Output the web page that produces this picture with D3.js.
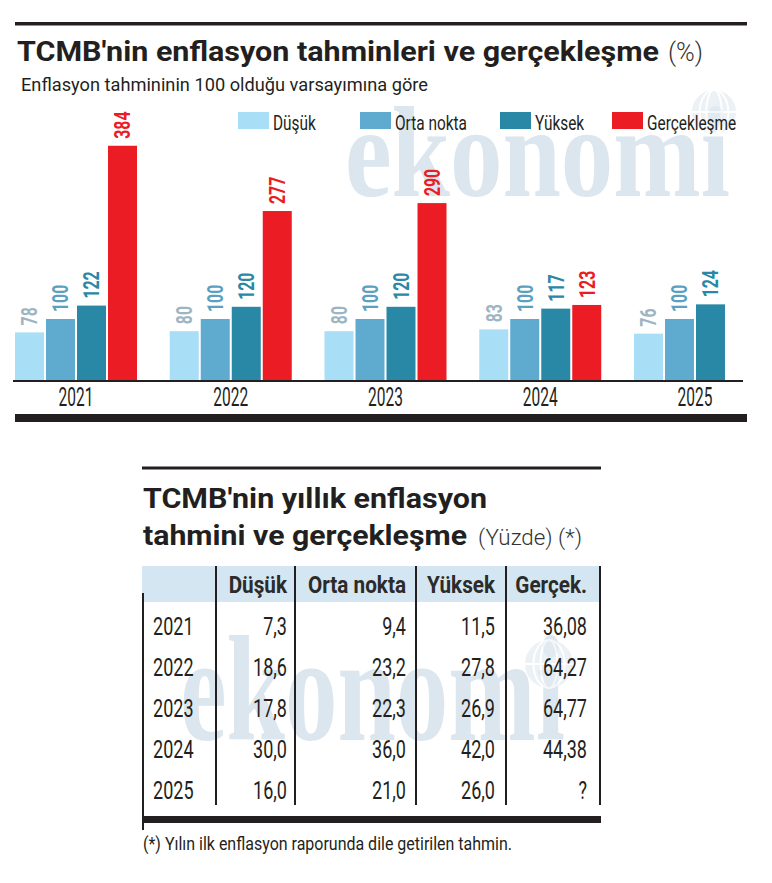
<!DOCTYPE html>
<html><head><meta charset="utf-8">
<script src="https://cdn.jsdelivr.net/npm/d3@7/dist/d3.min.js"></script>
<style>body{margin:0;background:#fff} svg{display:block}</style>
</head><body>
<svg id="c" width="772" height="883"></svg>
<script>
// ---------- DATA ----------
const years = ["2021", "2022", "2023", "2024", "2025"];
const seriesNames = ["Düşük", "Orta nokta", "Yüksek", "Gerçekleşme"];
const dusuk = [78, 80, 80, 83, 76];
const ortaNokta = [100, 100, 100, 100, 100];
const yuksek = [122, 120, 120, 117, 124];
const gerceklesme = [384, 277, 290, 123, null];

const tableHeaders = ["Düşük", "Orta nokta", "Yüksek", "Gerçek."];
const tDusuk = [7.3, 18.6, 17.8, 30.0, 16.0];
const tOrta = [9.4, 23.2, 22.3, 36.0, 21.0];
const tYuksek = [11.5, 27.8, 26.9, 42.0, 26.0];
const tGercek = [36.08, 64.27, 64.77, 44.38, null];

// ---------- STYLE ----------
const INK = "#231f20";
const FONT = "Roboto, 'Liberation Sans', sans-serif";
const barColors = ["#a8def6", "#5eabcf", "#2a88a7", "#ec1c24"];
const labelColors = ["#9db5c3", "#5b9fc1", "#2a87a6", "#ec1c24"];

const svg = d3.select("#c");
const trLocale = d3.formatLocale({decimal: ",", thousands: ".", grouping: [3], currency: ["", "₺"]});
const f1 = trLocale.format(".1f"), f2 = trLocale.format(".2f");

// ---------- WATERMARKS ----------
function watermark(x, yb, size, w) {
  svg.append("text").attr("x", x).attr("y", yb)
    .attr("font-family", "'Liberation Serif', 'DejaVu Serif', serif").attr("font-weight", "bold")
    .attr("font-size", size).attr("fill", "#dce6ee")
    .attr("textLength", w).attr("lengthAdjust", "spacingAndGlyphs").text("ekonomi");
}
function globe(cx, cy, r) {
  const g = svg.append("g").attr("opacity", 0.7);
  g.append("circle").attr("cx", cx).attr("cy", cy).attr("r", r).attr("fill", "#e4ecf2");
  [0.35, 0.65].forEach(t => g.append("ellipse").attr("cx", cx).attr("cy", cy)
    .attr("rx", r * t).attr("ry", r).attr("fill", "none").attr("stroke", "#fff").attr("stroke-width", 2));
  g.append("line").attr("x1", cx - r).attr("x2", cx + r).attr("y1", cy).attr("y2", cy).attr("stroke", "#fff").attr("stroke-width", 2);
}
watermark(345, 196, 130, 385);
globe(714, 112, 22);
watermark(180, 740, 150, 385);
globe(549, 664, 24);

// ---------- TOP CHART ----------
svg.append("rect").attr("x", 15).attr("y", 22).attr("width", 732).attr("height", 3.5).attr("fill", INK);
svg.append("text").attr("x", 17).attr("y", 61).attr("font-family", FONT).attr("font-weight", "bold")
  .attr("font-size", 28).attr("fill", INK).attr("textLength", 642).attr("lengthAdjust", "spacingAndGlyphs")
  .text("TCMB'nin enflasyon tahminleri ve gerçekleşme");
svg.append("text").attr("x", 668).attr("y", 61).attr("font-family", FONT).attr("font-weight", 300)
  .attr("font-size", 25).attr("fill", "#333").attr("textLength", 35).attr("lengthAdjust", "spacingAndGlyphs")
  .text("(%)");
svg.append("text").attr("x", 21).attr("y", 91).attr("font-family", FONT)
  .attr("font-size", 19).attr("fill", INK).attr("textLength", 407).attr("lengthAdjust", "spacingAndGlyphs")
  .text("Enflasyon tahmininin 100 olduğu varsayımına göre");

// legend
const legendX = [238, 360, 500, 612];
const leg = svg.append("g").selectAll("g").data(seriesNames).join("g")
  .attr("transform", (d, i) => `translate(${legendX[i]},112)`);
leg.append("rect").attr("width", 31).attr("height", 17).attr("fill", (d, i) => barColors[i]);
leg.append("text").attr("transform", "translate(35,18) scale(0.77,1)")
  .attr("font-family", FONT).attr("font-size", 20).attr("fill", INK).text(d => d);

// scales
const x0 = d3.scaleBand().domain(years).range([15, 756]).paddingInner(0.2116).paddingOuter(0);
const x1 = d3.scaleBand().domain(seriesNames).range([0, x0.bandwidth()]).paddingInner(0.065);
const y = d3.scaleLinear().domain([0, 400]).range([380, 136]);

const seriesVals = [dusuk, ortaNokta, yuksek, gerceklesme];
const barData = years.flatMap((yr, yi) => seriesNames.map((s, si) => ({yr, s, si, v: seriesVals[si][yi]})))
  .filter(d => d.v != null);

const bars = svg.append("g");
bars.selectAll("rect").data(barData).join("rect")
  .attr("x", d => x0(d.yr) + x1(d.s)).attr("width", x1.bandwidth())
  .attr("y", d => y(d.v)).attr("height", d => y(0) - y(d.v))
  .attr("fill", d => barColors[d.si]);

const LS = 22, LCAP = LS * 0.711;
bars.selectAll("text").data(barData).join("text")
  .attr("transform", d => `translate(${x0(d.yr) + x1(d.s) + x1.bandwidth() / 2 + LCAP / 2},${y(d.v) - 7}) rotate(-90) scale(0.72,1)`)
  .attr("font-family", FONT).attr("font-weight", "bold").attr("font-size", LS)
  .attr("fill", d => labelColors[d.si]).text(d => d.v);

// baseline + axis
svg.append("rect").attr("x", 13).attr("y", 380).attr("width", 730).attr("height", 2).attr("fill", INK);
const ax = svg.append("g").attr("transform", "translate(0,380)")
  .call(d3.axisBottom(x0).tickSize(0).tickPadding(0));
ax.select(".domain").remove();
ax.selectAll("text").attr("y", 26).attr("dy", 0).attr("font-size", 25).attr("font-family", FONT)
  .attr("fill", INK).attr("transform", "scale(0.62,1)");
svg.append("rect").attr("x", 15).attr("y", 414).attr("width", 732).attr("height", 8).attr("fill", INK);

// ---------- TABLE ----------
svg.append("rect").attr("x", 142).attr("y", 466.5).attr("width", 459).attr("height", 3).attr("fill", INK);
svg.append("text").attr("x", 143).attr("y", 508).attr("font-family", FONT).attr("font-weight", "bold")
  .attr("font-size", 28).attr("fill", INK).attr("textLength", 344).attr("lengthAdjust", "spacingAndGlyphs")
  .text("TCMB'nin yıllık enflasyon");
svg.append("text").attr("x", 143).attr("y", 545).attr("font-family", FONT).attr("font-weight", "bold")
  .attr("font-size", 28).attr("fill", INK).attr("textLength", 324).attr("lengthAdjust", "spacingAndGlyphs")
  .text("tahmini ve gerçekleşme");
svg.append("text").attr("x", 478).attr("y", 545).attr("font-family", FONT).attr("font-weight", 300)
  .attr("font-size", 22).attr("fill", "#333").attr("textLength", 104).attr("lengthAdjust", "spacingAndGlyphs")
  .text("(Yüzde) (*)");

svg.append("rect").attr("x", 142).attr("y", 566).attr("width", 459).attr("height", 36).attr("fill", "#d4e6f1");

const colRight = [287, 406, 495, 587];
const colLines = [216, 295, 416, 506, 600];
const rowY = d3.scaleBand().domain(years).range([605, 810]);
const rows = svg.append("g");
colLines.forEach(cx => rows.append("rect").attr("x", cx - 1).attr("y", 566).attr("width", 2).attr("height", 239).attr("fill", INK));
rows.append("rect").attr("x", 142).attr("y", 593).attr("width", 2).attr("height", 237).attr("fill", INK);

rows.selectAll("text.h").data(tableHeaders).join("text").attr("class", "h")
  .attr("transform", (d, i) => `translate(${colRight[i]},593) scale(0.9,1)`)
  .attr("text-anchor", "end").attr("font-family", FONT).attr("font-weight", "bold")
  .attr("font-size", 23).attr("fill", "#2b2b2b").text(d => d);

const tableCols = [tDusuk, tOrta, tYuksek, tGercek];
const cellData = years.flatMap((yr, yi) => tableCols.map((col, ci) => ({yr, ci, v: col[yi]})));
const base = d => rowY(d) + rowY.bandwidth() / 2 + 9.5;
rows.selectAll("text.yr").data(years).join("text").attr("class", "yr")
  .attr("transform", d => `translate(153,${base(d)}) scale(0.68,1)`)
  .attr("font-family", FONT).attr("font-size", 26.5).attr("fill", INK).text(d => d);
rows.selectAll("text.cell").data(cellData).join("text").attr("class", "cell")
  .attr("transform", d => `translate(${colRight[d.ci]},${base(d.yr)}) scale(0.68,1)`)
  .attr("text-anchor", "end").attr("font-family", FONT).attr("font-size", 26.5).attr("fill", INK)
  .text(d => d.v == null ? "?" : (d.ci === 3 ? f2(d.v) : f1(d.v)));

svg.append("rect").attr("x", 142).attr("y", 816).attr("width", 459).attr("height", 7).attr("fill", INK);
svg.append("text").attr("x", 143).attr("y", 850).attr("font-family", FONT)
  .attr("font-size", 19).attr("fill", INK).attr("textLength", 369).attr("lengthAdjust", "spacingAndGlyphs")
  .text("(*) Yılın ilk enflasyon raporunda dile getirilen tahmin.");
</script>
</body></html>
